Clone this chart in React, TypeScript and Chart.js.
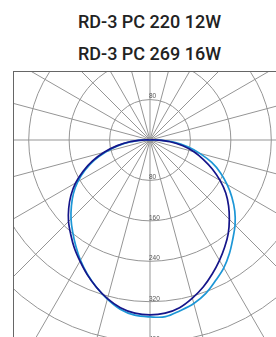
import React, { useEffect, useRef } from 'react';
import { Chart, registerables } from 'chart.js';

Chart.register(...registerables);

const titleLines = ['RD-3 PC 220 12W', 'RD-3 PC 269 16W'];

// gamma angles (degrees), 0 = nadir, going clockwise (left first)
const gammaAngles = [
  0, 5, 10, 15, 20, 25, 30, 35, 40, 45, 50, 55, 60, 65, 70, 75, 80, 85,
  90, 95, 100, 105, 110, 115, 120, 125, 130, 135, 140, 145, 150, 155, 160, 165, 170, 175,
  180, 185, 190, 195, 200, 205, 210, 215, 220, 225, 230, 235, 240, 245, 250, 255, 260, 265,
  270, 275, 280, 285, 290, 295, 300, 305, 310, 315, 320, 325, 330, 335, 340, 345, 350, 355,
];

const intensity12W = [
  346, 344, 337, 325, 310, 294, 277, 261, 244, 228, 210, 191, 170, 146, 121, 94, 67, 40,
  12, 0, 0, 0, 0, 0, 0, 0, 0, 0, 0, 0, 0, 0, 0, 0, 0, 0,
  0, 0, 0, 0, 0, 0, 0, 0, 0, 0, 0, 0, 0, 0, 0, 0, 0, 0,
  12, 40, 66, 90, 112, 136, 160, 183, 203, 222, 241, 258, 275, 292, 309, 324, 337, 344,
];

const intensity16W = [
  350, 348, 340, 326, 310, 293, 275, 256, 238, 221, 203, 185, 165, 142, 117, 90, 64, 38,
  12, 0, 0, 0, 0, 0, 0, 0, 0, 0, 0, 0, 0, 0, 0, 0, 0, 0,
  0, 0, 0, 0, 0, 0, 0, 0, 0, 0, 0, 0, 0, 0, 0, 0, 0, 0,
  14, 47, 76, 102, 130, 154, 176, 198, 219, 238, 255, 274, 292, 307, 323, 335, 343, 351,
];

const radialTicks = [80, 160, 240, 320, 400, 480];
const radialMax = 560;
const radialStep = 80;
const spokeEvery = 15;

const tickLabelPlugin = {
  id: 'tickLabelPlugin',
  beforeDatasetsDraw(chart: any) {
    const s = chart.scales.r;
    const ctx = chart.ctx;
    ctx.save();
    ctx.font = '6.5px "Liberation Sans", Arial, sans-serif';
    ctx.fillStyle = '#555';
    ctx.textAlign = 'left';
    ctx.textBaseline = 'alphabetic';
    for (const v of radialTicks) {
      const d = s.getDistanceFromCenterForValue(v);
      ctx.fillText(String(v), s.xCenter - 1, s.yCenter + d - 1);
      ctx.fillText(String(v), s.xCenter - 1, s.yCenter - d - 2);
    }
    ctx.restore();
  },
};

export default function App() {
  const canvasRef = useRef<HTMLCanvasElement | null>(null);

  useEffect(() => {
    if (!canvasRef.current) return;
    const chart = new Chart(canvasRef.current, {
      type: 'radar',
      data: {
        labels: gammaAngles.map(String),
        datasets: [
          {
            label: titleLines[0],
            data: intensity12W,
            borderColor: '#15158a',
            borderWidth: 1.7,
            pointRadius: 0,
            fill: false,
            tension: 0.35,
          },
          {
            label: titleLines[1],
            data: intensity16W,
            borderColor: '#1c96d6',
            borderWidth: 1.7,
            pointRadius: 0,
            fill: false,
            tension: 0.35,
          },
        ],
      },
      options: {
        animation: false,
        responsive: true,
        maintainAspectRatio: false,
        layout: { padding: 0 },
        plugins: {
          legend: { display: false },
          title: { display: false },
          tooltip: { enabled: false },
        },
        scales: {
          r: {
            min: 0,
            max: radialMax,
            startAngle: 180,
            ticks: { display: false, stepSize: radialStep },
            pointLabels: { display: false },
            grid: { circular: true, color: '#959595', lineWidth: 1 },
            angleLines: {
              color: '#959595',
              lineWidth: (ctx: any) => (gammaAngles[ctx.index] % spokeEvery === 0 ? 1 : 0),
            },
          },
        },
      },
      plugins: [tickLabelPlugin],
    });
    return () => chart.destroy();
  }, []);

  const titleStyle: React.CSSProperties = {
    position: 'absolute',
    left: 0,
    width: 299,
    textAlign: 'center',
    fontFamily: 'Roboto, sans-serif',
    fontWeight: 500,
    fontSize: 18,
    lineHeight: '18px',
    color: '#222',
    whiteSpace: 'nowrap',
  };

  return (
    <div
      style={{
        position: 'fixed',
        left: 0,
        top: 0,
        width: 276,
        height: 337,
        overflow: 'hidden',
        background: '#fff',
      }}
    >
      <div style={{ ...titleStyle, top: 13 }}>{titleLines[0]}</div>
      <div style={{ ...titleStyle, top: 45 }}>{titleLines[1]}</div>
      <div
        style={{
          position: 'absolute',
          left: 13,
          top: 71,
          width: 320,
          height: 320,
          borderLeft: '1px solid #666',
          borderTop: '1px solid #666',
          overflow: 'hidden',
        }}
      >
        <div style={{ position: 'absolute', left: -147, top: -215, width: 567, height: 567 }}>
          <canvas ref={canvasRef} />
        </div>
      </div>
    </div>
  );
}
